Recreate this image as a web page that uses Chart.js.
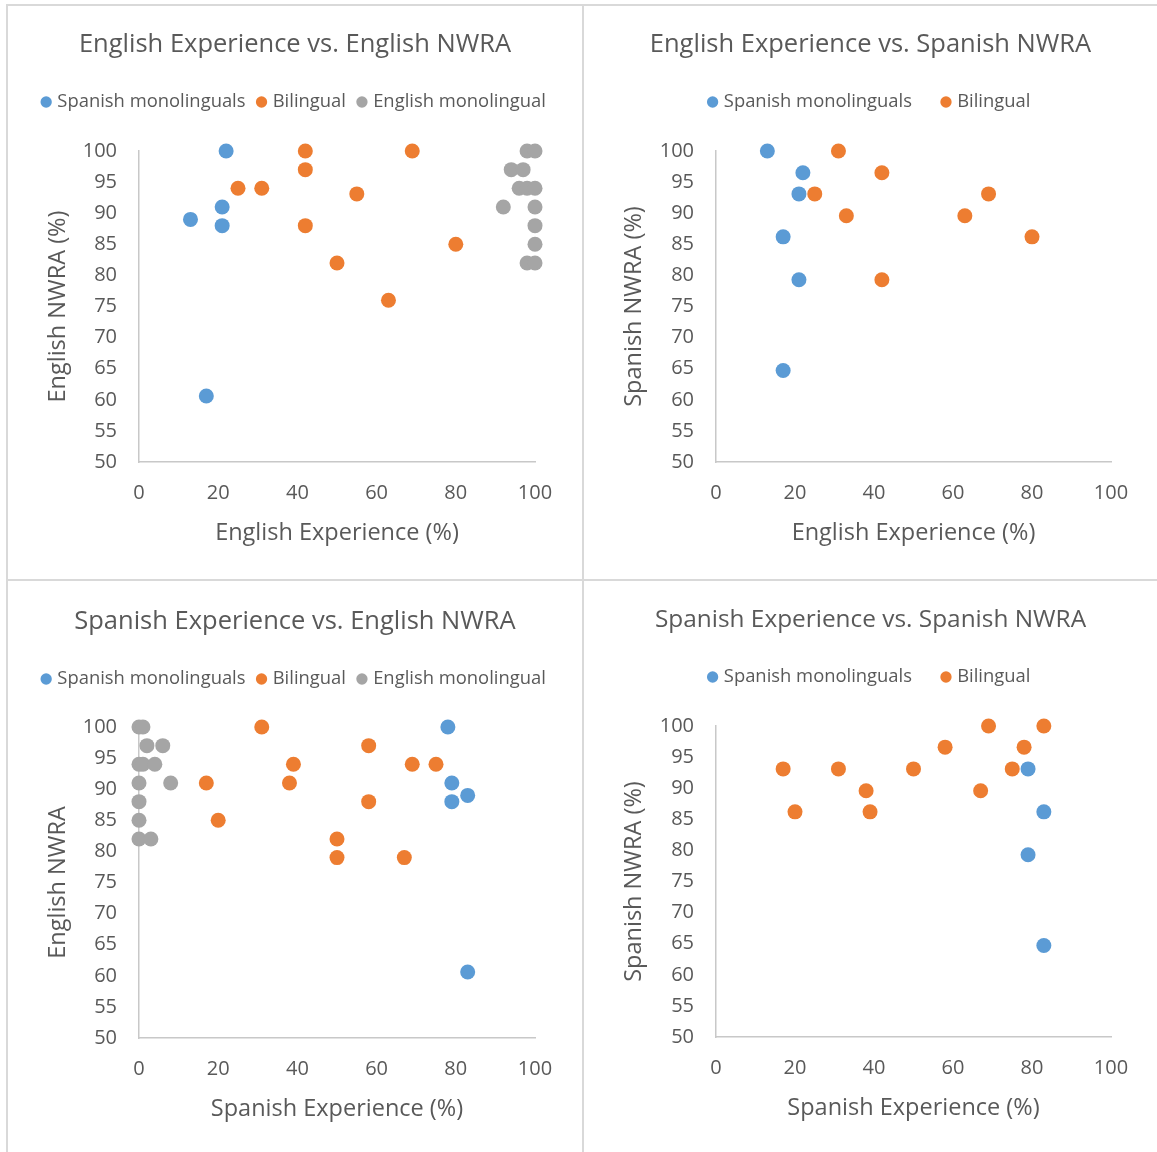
<!DOCTYPE html>
<html>
<head>
<meta charset="utf-8">
<script src="https://cdn.jsdelivr.net/npm/chart.js@4.4.1/dist/chart.umd.min.js"></script>
<style>
  body { margin: 0; background: #fff; }
  #wrap { position: relative; width: 1157px; height: 1152px; overflow: hidden; }
  .line { position: absolute; background: #d9d9d9; }
  canvas { position: absolute; }
</style>
</head>
<body>
<div id="wrap">
  <div class="line" style="left:6px;top:4px;width:2px;height:1148px"></div>
  <div class="line" style="left:6px;top:4px;width:1151px;height:2px"></div>
  <div class="line" style="left:582px;top:4px;width:2px;height:1148px"></div>
  <div class="line" style="left:6px;top:579px;width:1151px;height:2px"></div>
  <canvas id="c1" width="574" height="573" style="left:8px;top:6px"></canvas>
  <canvas id="c2" width="573" height="573" style="left:584px;top:6px"></canvas>
  <canvas id="c3" width="574" height="571" style="left:8px;top:581px"></canvas>
  <canvas id="c4" width="573" height="571" style="left:584px;top:581px"></canvas>
</div>
<script>
// series names and colours
const seriesNames = ['Spanish monolinguals', 'Bilingual', 'English monolingual'];
const seriesColors = ['#5B9BD5', '#ED7D31', '#A5A5A5'];

// axis ticks
const xTicks = [0, 20, 40, 60, 80, 100];
const yTicks = [50, 55, 60, 65, 70, 75, 80, 85, 90, 95, 100];

// panel 1: English Experience vs. English NWRA
const p1SpanX = [22, 21, 13, 21, 17];
const p1SpanY = [100, 91, 89, 88, 60.6];
const p1BiX = [42, 69, 42, 25, 31, 55, 42, 80, 50, 63];
const p1BiY = [100, 100, 97, 94, 94, 93.1, 88, 85, 82, 76];
const p1EngX = [98, 100, 94, 97, 96, 98, 100, 92, 100, 100, 100, 98, 100];
const p1EngY = [100, 100, 97, 97, 94, 94, 94, 91, 91, 88, 85, 82, 82];

// panel 2: English Experience vs. Spanish NWRA
const p2SpanX = [13, 22, 21, 17, 21, 17];
const p2SpanY = [100, 96.5, 93.1, 86.2, 79.3, 64.7];
const p2BiX = [31, 42, 25, 69, 33, 63, 80, 42];
const p2BiY = [100, 96.5, 93.1, 93.1, 89.6, 89.6, 86.2, 79.3];

// panel 3: Spanish Experience vs. English NWRA
const p3SpanX = [78, 79, 83, 79, 83];
const p3SpanY = [100, 91, 89, 88, 60.6];
const p3BiX = [31, 58, 39, 69, 75, 17, 38, 58, 20, 50, 50, 67];
const p3BiY = [100, 97, 94, 94, 94, 91, 91, 88, 85, 82, 79, 79];
const p3EngX = [0, 1, 2, 6, 0, 1, 4, 0, 8, 0, 0, 0, 3];
const p3EngY = [100, 100, 97, 97, 94, 94, 94, 91, 91, 88, 85, 82, 82];

// panel 4: Spanish Experience vs. Spanish NWRA
const p4SpanX = [79, 83, 79, 83];
const p4SpanY = [93.1, 86.2, 79.3, 64.7];
const p4BiX = [69, 83, 58, 78, 17, 31, 50, 75, 38, 67, 20, 39];
const p4BiY = [100, 100, 96.6, 96.6, 93.1, 93.1, 93.1, 93.1, 89.6, 89.6, 86.2, 86.2];

Chart.defaults.font.family = "'Open Sans', sans-serif";
Chart.defaults.color = '#595959';

const LEGEND_SIZE = 18.4;
const TICK_SIZE = 20;
const AXIS_TITLE_SIZE = 23.5;

const toPoints = (xs, ys) => xs.map((x, i) => ({ x: x, y: ys[i] }));

function makeChart(id, cfg) {
  const canvas = document.getElementById(id);
  const H = canvas.height;
  const W = canvas.width;
  const datasets = cfg.series.map((s, i) => ({
    label: seriesNames[i],
    data: toPoints(s[0], s[1]),
    backgroundColor: seriesColors[i],
    borderColor: seriesColors[i],
    borderWidth: 0,
    pointRadius: 7.5,
    pointHoverRadius: 7.5,
    clip: false
  }));
  const legPad = cfg.legendPad;
  const titleLH = cfg.titleSize * 1.2;
  const t1 = cfg.titleC - titleLH / 2;
  const t2 = cfg.legendC - LEGEND_SIZE / 2 - legPad - (t1 + titleLH);
  const gap = cfg.plotTop - cfg.legendC - LEGEND_SIZE / 2 - 10;
  const axisLH = AXIS_TITLE_SIZE * 1.2;

  return new Chart(canvas, {
    type: 'scatter',
    data: { datasets },
    options: {
      responsive: false,
      animation: false,
      layout: { padding: 0 },
      plugins: {
        title: {
          display: true,
          text: cfg.title,
          font: { size: cfg.titleSize, weight: 'normal' },
          padding: { top: t1, bottom: t2 }
        },
        legend: {
          position: 'top',
          labels: {
            usePointStyle: true,
            pointStyle: 'circle',
            boxWidth: 4,
            boxHeight: 8,
            padding: legPad,
            font: { size: LEGEND_SIZE }
          }
        },
        // empty spacer between legend and plot area
        subtitle: {
          display: true,
          text: '',
          weight: 500,
          font: { size: 1, lineHeight: 1 },
          padding: { top: gap - 1, bottom: 0 }
        },
        tooltip: { enabled: false }
      },
      scales: {
        x: {
          type: 'linear',
          min: 0,
          max: 100,
          afterBuildTicks: (scale) => { scale.ticks = xTicks.map(v => ({ value: v })); },
          afterFit: (scale) => { scale.height = H - cfg.plotBottom; },
          grid: { display: false, drawTicks: false },
          border: { display: true, color: '#c8c8c8', width: 1.5 },
          ticks: { padding: 19, font: { size: TICK_SIZE }, color: '#595959' },
          title: {
            display: true,
            text: cfg.xTitle,
            font: { size: AXIS_TITLE_SIZE },
            padding: { top: 0, bottom: H - (cfg.plotBottom + 71) - axisLH / 2 }
          }
        },
        y: {
          type: 'linear',
          min: 50,
          max: 100,
          afterBuildTicks: (scale) => { scale.ticks = yTicks.map(v => ({ value: v })); },
          afterFit: (scale) => { scale.width = cfg.plotLeft; },
          grid: { display: false, drawTicks: false },
          border: { display: true, color: '#c8c8c8', width: 1.5 },
          ticks: { padding: 22, font: { size: TICK_SIZE }, color: '#595959', autoSkip: false },
          title: {
            display: true,
            text: cfg.yTitle,
            font: { size: AXIS_TITLE_SIZE },
            padding: { top: 50 - axisLH / 2, bottom: 0 }
          }
        },
        // empty right-hand margin so the title and legend stay centred on the panel
        yPad: {
          type: 'linear',
          position: 'right',
          afterFit: (scale) => { scale.width = W - cfg.plotRight; },
          grid: { display: false, drawTicks: false },
          border: { display: false },
          ticks: { display: false },
          title: { display: false }
        }
      }
    }
  });
}

makeChart('c1', {
  title: 'English Experience vs. English NWRA',
  xTitle: 'English Experience (%)',
  yTitle: 'English NWRA (%)',
  series: [[p1SpanX, p1SpanY], [p1BiX, p1BiY], [p1EngX, p1EngY]],
  titleSize: 25.5, titleC: 39, legendC: 96, legendPad: 14,
  plotLeft: 131, plotRight: 527, plotTop: 145, plotBottom: 456
});

makeChart('c2', {
  title: 'English Experience vs. Spanish NWRA',
  xTitle: 'English Experience (%)',
  yTitle: 'Spanish NWRA (%)',
  series: [[p2SpanX, p2SpanY], [p2BiX, p2BiY]],
  titleSize: 25.5, titleC: 39, legendC: 96, legendPad: 32,
  plotLeft: 132, plotRight: 527, plotTop: 145, plotBottom: 456
});

makeChart('c3', {
  title: 'Spanish Experience vs. English NWRA',
  xTitle: 'Spanish Experience (%)',
  yTitle: 'English NWRA',
  series: [[p3SpanX, p3SpanY], [p3BiX, p3BiY], [p3EngX, p3EngY]],
  titleSize: 25.5, titleC: 41, legendC: 98, legendPad: 14,
  plotLeft: 131, plotRight: 527, plotTop: 146, plotBottom: 457
});

makeChart('c4', {
  title: 'Spanish Experience vs. Spanish NWRA',
  xTitle: 'Spanish Experience (%)',
  yTitle: 'Spanish NWRA (%)',
  series: [[p4SpanX, p4SpanY], [p4BiX, p4BiY]],
  titleSize: 24.4, titleC: 39, legendC: 96, legendPad: 32,
  plotLeft: 132, plotRight: 527, plotTop: 145, plotBottom: 456
});
</script>
</body>
</html>
